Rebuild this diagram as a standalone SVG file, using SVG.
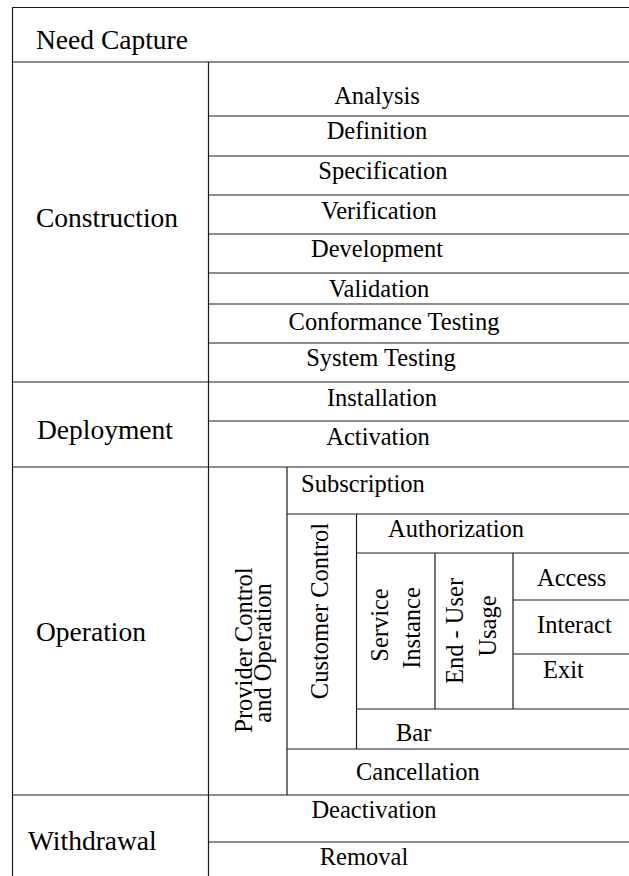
<svg xmlns="http://www.w3.org/2000/svg" width="629" height="876" viewBox="0 0 629 876">
  <style>
    .ln { stroke: #1a1a1a; stroke-width: 1.2; fill: none; }
    .t { font-family: "Liberation Serif", "Times New Roman", serif; font-size: 24.5px; fill: #000; }
    .p { font-size: 27.5px; }
    .c { text-anchor: middle; }
  </style>
  <rect x="0" y="0" width="629" height="876" fill="#fff"/>

  <!-- grid lines of the lifecycle table -->
  <g id="connectors" class="ln">
    <!-- outer frame -->
    <line x1="12.5" y1="7" x2="12.5" y2="876"/>
    <line x1="12" y1="7.5" x2="629" y2="7.5"/>
    <!-- phase separators -->
    <line x1="12" y1="62" x2="629" y2="62"/>
    <line x1="12" y1="382" x2="629" y2="382"/>
    <line x1="12" y1="467" x2="629" y2="467"/>
    <line x1="12" y1="795" x2="629" y2="795"/>
    <!-- phase / activity divider -->
    <line x1="208.5" y1="62" x2="208.5" y2="876"/>
    <!-- construction activities -->
    <line x1="208" y1="116" x2="629" y2="116"/>
    <line x1="208" y1="156" x2="629" y2="156"/>
    <line x1="208" y1="195" x2="629" y2="195"/>
    <line x1="208" y1="234" x2="629" y2="234"/>
    <line x1="208" y1="273" x2="629" y2="273"/>
    <line x1="208" y1="304" x2="629" y2="304"/>
    <line x1="208" y1="343" x2="629" y2="343"/>
    <!-- deployment activities -->
    <line x1="208" y1="421" x2="629" y2="421"/>
    <!-- operation nesting -->
    <line x1="287" y1="467" x2="287" y2="795"/>
    <line x1="287" y1="514" x2="629" y2="514"/>
    <line x1="356.5" y1="514" x2="356.5" y2="749"/>
    <line x1="356" y1="553" x2="629" y2="553"/>
    <line x1="435" y1="553" x2="435" y2="709"/>
    <line x1="513" y1="553" x2="513" y2="709"/>
    <line x1="513" y1="600" x2="629" y2="600"/>
    <line x1="513" y1="654" x2="629" y2="654"/>
    <line x1="356" y1="709" x2="629" y2="709"/>
    <line x1="287" y1="749" x2="629" y2="749"/>
    <!-- withdrawal activities -->
    <line x1="208" y1="842" x2="629" y2="842"/>
  </g>

  <!-- phases -->
  <g id="need-capture"><text class="t p" x="36" y="49">Need Capture</text></g>
  <g id="construction"><text class="t p" x="36" y="227">Construction</text></g>
  <g id="deployment"><text class="t p" x="37" y="439">Deployment</text></g>
  <g id="operation"><text class="t p" x="36" y="641">Operation</text></g>
  <g id="withdrawal"><text class="t p" x="28" y="850">Withdrawal</text></g>

  <!-- construction activities -->
  <g id="analysis"><text class="t c" x="377" y="104">Analysis</text></g>
  <g id="definition"><text class="t c" x="377" y="139">Definition</text></g>
  <g id="specification"><text class="t c" x="383" y="179">Specification</text></g>
  <g id="verification"><text class="t c" x="379" y="219">Verification</text></g>
  <g id="development"><text class="t c" x="377" y="257">Development</text></g>
  <g id="validation"><text class="t c" x="379" y="297">Validation</text></g>
  <g id="conformance-testing"><text class="t c" x="394" y="330">Conformance Testing</text></g>
  <g id="system-testing"><text class="t c" x="381" y="366">System Testing</text></g>

  <!-- deployment activities -->
  <g id="installation"><text class="t c" x="382" y="406">Installation</text></g>
  <g id="activation"><text class="t c" x="378" y="445">Activation</text></g>

  <!-- operation -->
  <g id="provider-control">
    <text class="t c" transform="translate(252,650) rotate(-90)">Provider Control</text>
    <text class="t c" transform="translate(271,653) rotate(-90)">and Operation</text>
  </g>
  <g id="subscription"><text class="t" x="301" y="492">Subscription</text></g>
  <g id="customer-control">
    <text class="t c" transform="translate(328,611) rotate(-90)">Customer Control</text>
  </g>
  <g id="authorization"><text class="t" x="388" y="537">Authorization</text></g>
  <g id="service-instance">
    <text class="t c" transform="translate(388,625) rotate(-90)">Service</text>
    <text class="t c" transform="translate(420,628) rotate(-90)">Instance</text>
  </g>
  <g id="end-user-usage">
    <text class="t c" transform="translate(463,631) rotate(-90)">End - User</text>
    <text class="t c" transform="translate(496,626) rotate(-90)">Usage</text>
  </g>
  <g id="access"><text class="t" x="537" y="586">Access</text></g>
  <g id="interact"><text class="t" x="537" y="633">Interact</text></g>
  <g id="exit"><text class="t" x="543" y="678">Exit</text></g>
  <g id="bar"><text class="t" x="396" y="741">Bar</text></g>
  <g id="cancellation"><text class="t" x="356" y="780">Cancellation</text></g>

  <!-- withdrawal activities -->
  <g id="deactivation"><text class="t c" x="374" y="818">Deactivation</text></g>
  <g id="removal"><text class="t c" x="364" y="865">Removal</text></g>
</svg>
